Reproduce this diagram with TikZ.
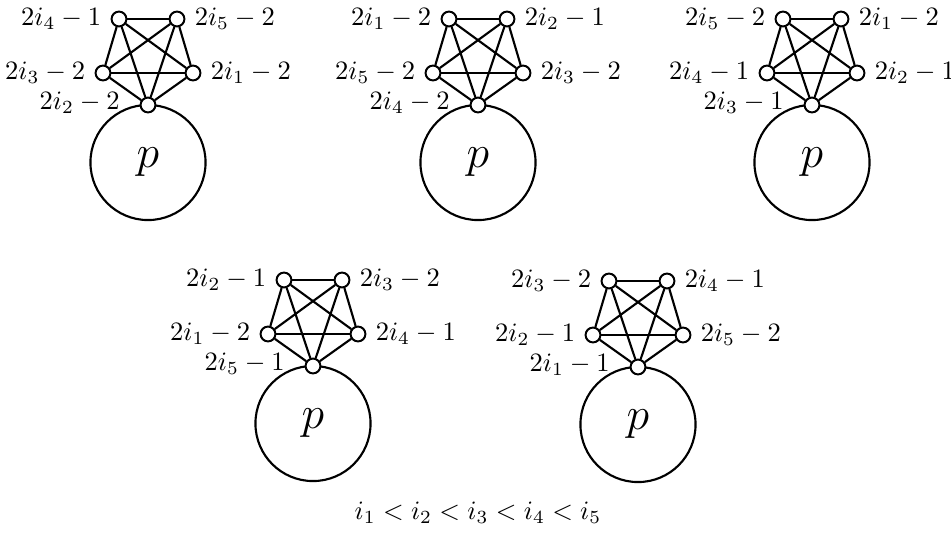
\documentclass[tikz,border=0pt]{standalone}
\usetikzlibrary{calc}

% one K5 gadget sitting on a big circle p
% #1 name, #2/#3 contact vertex, #4..#8 labels (top left, top right, left, right, bottom)
\newcommand{\kfive}[8]{%
\begin{scope}[shift={(#2,#3)}]
  \node[bigc] (#1p) at (0,57.5) {$p$};
  \node[vtx, label=left:{$#4$}] (#1a) at (-29,-86) {};
  \node[vtx, label=right:{$#5$}] (#1b) at (29,-86) {};
  \node[vtx, label=left:{$#6$}] (#1c) at (-45,-32) {};
  \node[vtx, label=right:{$#7$}] (#1d) at (45,-32) {};
  \node[vtx, label={[xshift=-4pt, yshift=1pt]left:{$#8$}}] (#1e) at (0,0) {};
  \foreach \u/\v in {a/b,a/c,a/d,a/e,b/c,b/d,b/e,c/d,c/e,d/e}
    \draw[edge] (#1\u) -- (#1\v);
\end{scope}}

\begin{document}
\begin{tikzpicture}[
    x=0.377pt, y=-0.377pt,
    vtx/.style={circle, draw, fill=white, line width=0.75pt, inner sep=0pt, minimum size=5.6pt},
    bigc/.style={circle, draw, line width=0.8pt, inner sep=0pt, minimum size=43.4pt, font=\LARGE},
    edge/.style={line width=0.8pt}
]
\useasboundingbox (0,0) rectangle (951,540);

\kfive{g1}{148}{105}{2i_4-1}{2i_5-2}{2i_3-2}{2i_1-2}{2i_2-2}
\kfive{g2}{478}{105}{2i_1-2}{2i_2-1}{2i_5-2}{2i_3-2}{2i_4-2}
\kfive{g3}{812}{105}{2i_5-2}{2i_1-2}{2i_4-1}{2i_2-1}{2i_3-1}
\kfive{g4}{313}{366}{2i_2-1}{2i_3-2}{2i_1-2}{2i_4-1}{2i_5-1}
\kfive{g5}{638}{367}{2i_3-2}{2i_4-1}{2i_2-1}{2i_5-2}{2i_1-1}

\node (order) at (478,513) {$i_1<i_2<i_3<i_4<i_5$};
\end{tikzpicture}
\end{document}
